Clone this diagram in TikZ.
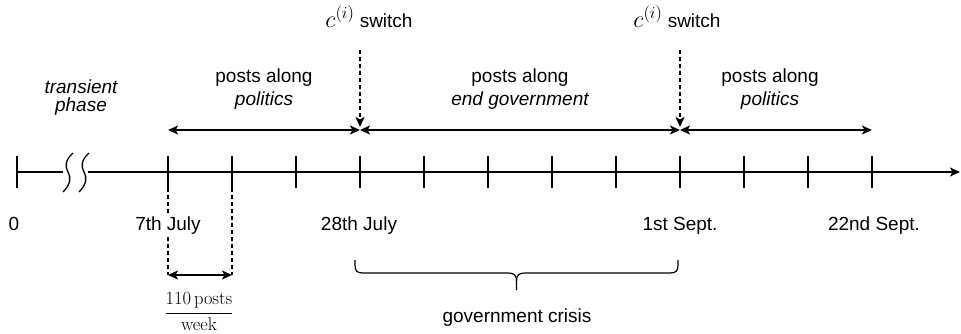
\RequirePackage{fix-cm}
\documentclass[tikz,border=0pt]{standalone}
\usepackage[no-math]{fontspec}
\setmainfont{Liberation Sans}
\usetikzlibrary{arrows.meta,calc}

\begin{document}
\begin{tikzpicture}[x=1pt,y=-1pt,
  >={Stealth[length=10pt,width=9pt,inset=2.5pt]},
  axisline/.style={line width=1.5pt},
  span/.style={<->,line width=1.5pt},
  dashline/.style={line width=1.5pt,dash pattern=on 4pt off 3pt},
  lbl/.style={font=\fontsize{19}{23}\selectfont,inner sep=0pt,anchor=base},
  ilbl/.style={lbl,font=\fontsize{19}{23}\selectfont\itshape}]
\useasboundingbox (0,0) rectangle (961,333);

% ---- time axis with a break after the origin
\coordinate (origin) at (17,172);
\coordinate (brkL) at (63,172);
\coordinate (brkR) at (88,172);
\coordinate (axisend) at (960,172);
\draw[axisline] (origin) -- (brkL);
\draw[axisline,->] (brkR) -- (axisend);
\draw[axisline] (origin) ++(0,-16) -- ++(0,32);
\foreach \a in {68,84}
  \draw[line width=1.3pt] (\a+5,153) .. controls (\a-3,160) and (\a-3,167) .. (\a,172)
                  .. controls (\a+3,177) and (\a+3,184) .. (\a-5,192);

% weekly ticks
\foreach \i in {0,...,11} {
  \coordinate (t\i) at ({168+64*\i},172);
  \draw[axisline] (t\i) ++(0,-16) -- ++(0,32);
}

% ---- posting rate over one week (drawn before the date labels)
\coordinate (w0) at (168,275);
\coordinate (w1) at (232,275);
\draw[dashline] ($(t0)+(0,16)$) -- (w0);
\draw[dashline] ($(t1)+(0,16)$) -- (w1);
\draw[span] (w0) -- (w1);
\node[font=\fontsize{18.5}{22}\selectfont,inner sep=0pt] (rate) at (199,311.5)
  {$\displaystyle\frac{110\,\mathrm{posts}}{\mathrm{week}}$};

% ---- dates
\node[lbl] (d0lbl)  at (14,230)  {0};
\node[lbl,fill=white,inner sep=1pt] (jul7) at (168,230) {7th July};
\node[lbl] (jul28)  at (359,230) {28th July};
\node[lbl] (sep1)   at (680,230) {1st Sept.};
\node[lbl] (sep22)  at (874,230) {22nd Sept.};

% ---- transient phase
\node[ilbl] (trans1) at (81,93)  {transient};
\node[ilbl] (trans2) at (81,111) {phase};

% ---- phases of posting
\foreach \i in {0,3,8,11} \path (t\i) ++(0,-42) coordinate (a\i);
\draw[span] (a0) -- (a3);
\draw[span] (a3) -- (a8);
\draw[span] (a8) -- (a11);

\node[lbl]  (polA1) at (264,82)  {posts along};
\node[ilbl] (polA2) at (264,105) {politics};
\node[lbl]  (endG1) at (520,82)  {posts along};
\node[ilbl] (endG2) at (520,105) {end government};
\node[lbl]  (polB1) at (770,82)  {posts along};
\node[ilbl] (polB2) at (770,105) {politics};

% ---- switches of the opinion
\node[lbl] (sw1) at (369,27) {{\fontsize{24}{28}\selectfont$c^{(i)}$} switch};
\node[lbl] (sw2) at (677,27) {{\fontsize{24}{28}\selectfont$c^{(i)}$} switch};
\coordinate (s1) at ($(t3)+(0,-122)$);
\coordinate (s2) at ($(t8)+(0,-122)$);
\draw[dashline,->,shorten >=3pt] (s1) -- (a3);
\draw[dashline,->,shorten >=3pt] (s2) -- (a8);

% ---- government crisis brace
\draw[line width=1.2pt]
  (355,260) -- (355,265) .. controls (355,271) and (357,273) .. (363,273)
  -- (508,273) .. controls (514,273) and (516.5,275) .. (516.5,281) -- (516.5,290);
\draw[line width=1.2pt]
  (678,260) -- (678,265) .. controls (678,271) and (676,273) .. (670,273)
  -- (525,273) .. controls (519,273) and (516.5,275) .. (516.5,281);
\node[lbl] (crisis) at (517,322) {government crisis};
\end{tikzpicture}
\end{document}
